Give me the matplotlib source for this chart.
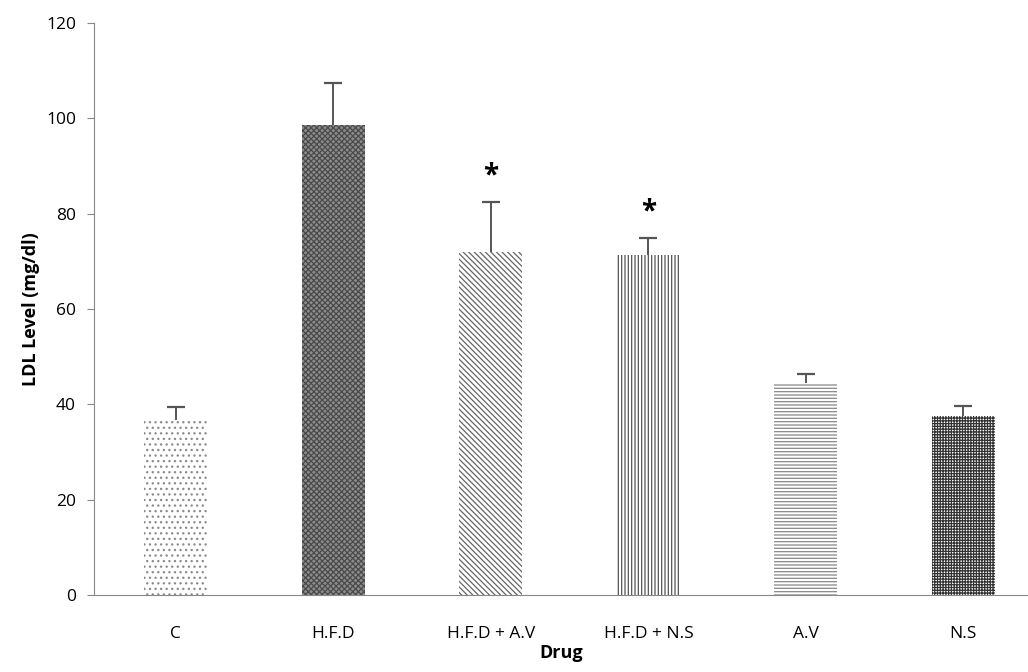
import matplotlib
matplotlib.use("Agg")
import matplotlib.pyplot as plt
import numpy as np

categories = ["C", "H.F.D", "H.F.D + A.V", "H.F.D + N.S", "A.V", "N.S"]
values = [36.7, 98.6, 72.0, 71.3, 44.5, 37.5]
errors = [2.7, 8.8, 10.4, 3.6, 1.9, 2.1]
significant = [False, False, True, True, False, False]

hatches = ["...", "xxxxxx", "\\\\\\\\\\\\", "|||||", "-----", "++++++"]
hatch_colors = ["#8a8a8a", "#4a4a4a", "#666666", "#555555", "#888888", "#333333"]
face_colors = ["white", "#8c8c8c", "white", "white", "white", "white"]

plt.rcParams['font.family'] = ['Open Sans', 'DejaVu Sans']
plt.rcParams['hatch.linewidth'] = 0.9

fig = plt.figure(figsize=(10.28, 6.72), dpi=100)
ax = fig.add_axes([94/1028, 77/672, (1028-94)/1028, (595-23)/672])

x = np.arange(len(categories))
for i in range(len(categories)):
    ax.bar(x[i], values[i], width=0.4, color=face_colors[i], edgecolor=hatch_colors[i],
           hatch=hatches[i], linewidth=0)
    top = values[i] + errors[i]
    ax.vlines(x[i], values[i], top, color="#555555", linewidth=1.4)
    ax.plot([x[i]], [top], marker="_", markersize=13, markeredgewidth=1.6,
            color="#555555")
    if significant[i]:
        ax.text(x[i], top + 2.5, "*", ha="center", va="bottom",
                fontsize=20, fontweight="bold")

ax.set_xlim(-0.52, 5.41)
ax.set_ylim(0, 120)
ax.set_yticks(np.arange(0, 121, 20))
ax.set_xticks(x)
ax.set_xticklabels(categories)
ax.tick_params(axis="x", length=0, labelsize=12.5, pad=22)
ax.tick_params(axis="y", length=5, color="#888888", labelsize=12.5, pad=8)
for s in ["top", "right"]:
    ax.spines[s].set_visible(False)
ax.spines["left"].set_color("#888888")
ax.spines["bottom"].set_color("#888888")
ax.set_ylabel("LDL Level (mg/dl)", fontsize=13, fontweight="bold", labelpad=4)
ax.set_xlabel("Drug", fontsize=13, fontweight="bold", labelpad=2)

fig.savefig("out.png", dpi=100)
